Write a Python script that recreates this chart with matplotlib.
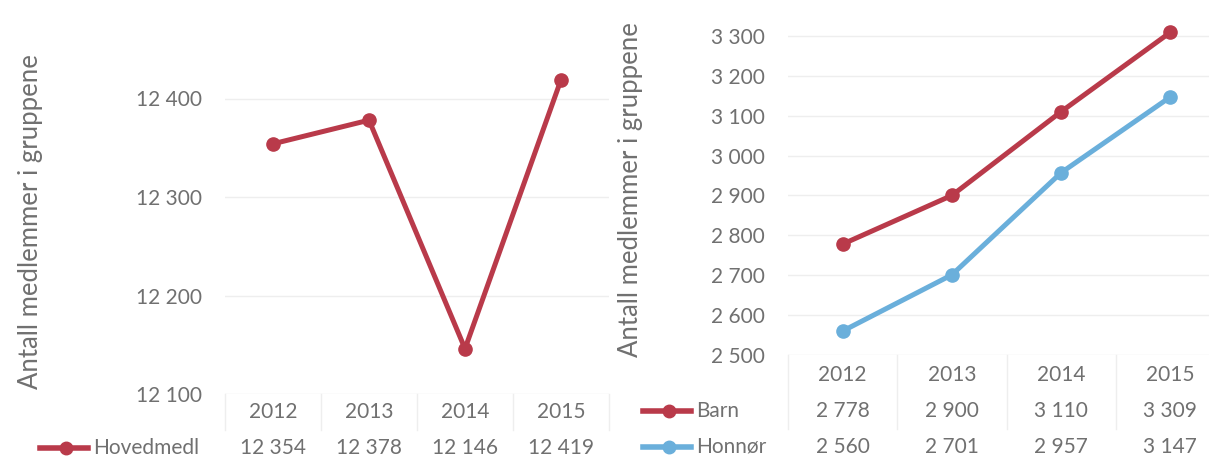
import matplotlib.pyplot as plt
from matplotlib.ticker import FuncFormatter, MultipleLocator
from matplotlib.lines import Line2D

plt.rcParams['font.family'] = ['Lato', 'DejaVu Sans']

years = ["2012", "2013", "2014", "2015"]
hoved = [12354, 12378, 12146, 12419]
barn = [2778, 2900, 3110, 3309]
honnor = [2560, 2701, 2957, 3147]

red = "#b93a4a"
blue = "#6aafdb"
txt = "#707070"
grid = "#eeeeee"
ylab = "Antall medlemmer i gruppene"

def fmt(v, pos=None):
    return f"{v:,.0f}".replace(",", " ")

W, H = 1209, 463
fig = plt.figure(figsize=(W / 100, H / 100), dpi=100)

def px_axes(x0, x1, ybot, ytop):
    return fig.add_axes([x0 / W, (H - ybot) / H, (x1 - x0) / W, (ybot - ytop) / H])

def style(ax, lo, hi):
    ax.set_xlim(-0.5, len(years) - 0.5)
    ax.set_ylim(lo, hi)
    ax.yaxis.set_major_locator(MultipleLocator(100))
    ax.yaxis.set_major_formatter(FuncFormatter(fmt))
    ax.set_xticks([])
    for s in ax.spines.values():
        s.set_visible(False)
    ax.grid(axis="y", color=grid, lw=1)
    ax.set_axisbelow(True)
    ax.tick_params(axis="y", length=0, pad=16.5, labelsize=15, labelcolor=txt)

def table(ax, rows, row_y, year_y, x_leg):
    tr = ax.get_xaxis_transform()
    for i, y in enumerate(years):
        ax.text(i, year_y, y, transform=tr, ha="center", va="center",
                fontsize=15, color=txt, clip_on=False)
    pos = ax.get_position()
    for (name, vals, col), ry in zip(rows, row_y):
        for i in range(len(years)):
            ax.text(i, ry, fmt(vals[i]), transform=tr, ha="center", va="center",
                    fontsize=15, color=txt, clip_on=False)
        fy = pos.y0 + ry * pos.height
        fig.add_artist(Line2D([x_leg / W, (x_leg + 48) / W], [fy, fy], color=col, lw=4))
        fig.add_artist(Line2D([(x_leg + 26) / W], [fy], color=col, marker="o", ms=9))
        fig.text((x_leg + 53) / W, fy, name, ha="left", va="center", fontsize=15, color=txt)
    # faint table cell lines
    bottom = row_y[-1] - (row_y[0] - year_y) / 2
    for b in [-0.5, 0.5, 1.5, 2.5, 3.5]:
        ax.plot([b, b], [0, bottom], transform=tr, color=grid, lw=1, clip_on=False)

# left panel
ax1 = px_axes(225, 609, 394, 0)
ax1.plot(range(len(years)), hoved, color=red, lw=3.6, marker="o", ms=9.5)
style(ax1, 12100, 12500)
ax1.set_yticks([12100, 12200, 12300, 12400])
ax1.set_ylabel(ylab, fontsize=18.5, color=txt)
ax1.yaxis.set_label_coords(-0.474, 0.437)
table(ax1, [("Hovedmedl", hoved, red)], [-0.137], -0.0457, 40)

# right panel
ax2 = px_axes(788, 1225, 355, -4)
ax2.plot(range(len(years)), barn, color=red, lw=3.6, marker="o", ms=9.5)
ax2.plot(range(len(years)), honnor, color=blue, lw=3.6, marker="o", ms=9.5)
style(ax2, 2500, 3400)
ax2.set_yticks(range(2500, 3301, 100))
ax2.set_ylabel(ylab, fontsize=18.5, color=txt)
ax2.yaxis.set_label_coords(-0.332, 0.46)
table(ax2, [("Barn", barn, red), ("Honnør", honnor, blue)], [-0.156, -0.256], -0.0557, 643)

fig.savefig("out.png", dpi=100)
